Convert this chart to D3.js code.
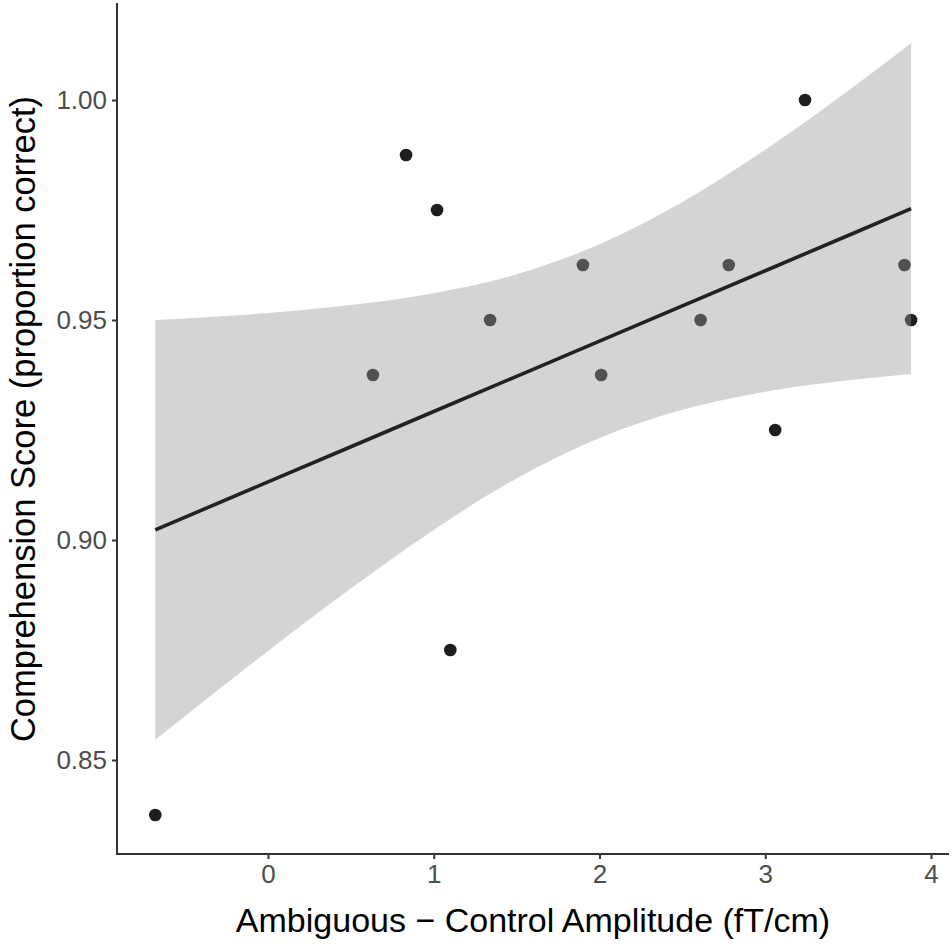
<!DOCTYPE html>
<html>
<head>
<meta charset="utf-8">
<script src="https://cdn.jsdelivr.net/npm/d3@7"></script>
<style>
  html, body { margin: 0; padding: 0; background: #fff; }
  svg { display: block; }
  text { font-family: "Liberation Sans", Arial, Helvetica, sans-serif; }
</style>
</head>
<body>
<svg id="chart" width="952" height="946"></svg>
<script>
// ---- data ----
const amplitude = [-0.68, 0.633, 0.833, 1.02, 1.10, 1.34, 1.90, 2.01, 2.61, 2.78, 3.06, 3.24, 3.84, 3.88];
const score     = [0.8375, 0.9375, 0.9875, 0.975, 0.875, 0.95, 0.9625, 0.9375, 0.95, 0.9625, 0.925, 1.0, 0.9625, 0.95];

// fitted line and 95% confidence band (as seen in the picture)
const fitX     = [-0.68, 0, 0.5, 1, 1.5, 2, 2.5, 3, 3.5, 3.88];
const fitY     = [0.9023, 0.9132, 0.9212, 0.9292, 0.9372, 0.9452, 0.9532, 0.9612, 0.9692, 0.9753];
const fitLower = [0.8546, 0.8748, 0.8890, 0.9023, 0.9140, 0.9232, 0.9296, 0.9337, 0.9363, 0.9377];
const fitUpper = [0.9500, 0.9516, 0.9534, 0.9561, 0.9604, 0.9672, 0.9768, 0.9887, 1.0021, 1.0129];

const xTicks = [0, 1, 2, 3, 4];
const yTicks = [0.85, 0.90, 0.95, 1.00];
const xTitle = "Ambiguous \u2212 Control Amplitude (fT/cm)";
const yTitle = "Comprehension Score (proportion correct)";

// ---- layout ----
const svg = d3.select("#chart");
const panel = { left: 117, right: 949, top: 3, bottom: 854 };

const x = d3.scaleLinear().domain([0, 4]).range([268, 931]);
const y = d3.scaleLinear().domain([0.85, 1.00]).range([760, 100]);

// points (drawn beneath the ribbon, as in ggplot)
const pts = amplitude.map((a, i) => ({ x: a, y: score[i] }));
svg.append("g").selectAll("circle").data(pts).join("circle")
  .attr("cx", d => x(d.x)).attr("cy", d => y(d.y)).attr("r", 6.3)
  .attr("fill", "#1e1e1e");

// confidence ribbon
const band = fitX.map((v, i) => ({ x: v, lo: fitLower[i], hi: fitUpper[i] }));
svg.append("path").datum(band)
  .attr("d", d3.area().curve(d3.curveMonotoneX)
    .x(d => x(d.x)).y0(d => y(d.lo)).y1(d => y(d.hi)))
  .attr("fill", "#999999").attr("fill-opacity", 0.42);

// fitted line
const fit = fitX.map((v, i) => ({ x: v, y: fitY[i] }));
svg.append("path").datum(fit)
  .attr("d", d3.line().x(d => x(d.x)).y(d => y(d.y)))
  .attr("fill", "none").attr("stroke", "#222").attr("stroke-width", 3.6);

// axes
const xAxis = d3.axisBottom(x).tickValues(xTicks).tickFormat(d3.format("d"))
  .tickSize(5).tickPadding(6);
const gx = svg.append("g").attr("transform", `translate(0,${panel.bottom})`).call(xAxis);
gx.select(".domain").remove();
gx.selectAll(".tick line").attr("stroke", "#333").attr("stroke-width", 2);
gx.selectAll(".tick text").attr("fill", "#4d4d4d").attr("font-size", 26)
  .attr("font-family", "Liberation Sans, Arial, sans-serif");

const yAxis = d3.axisLeft(y).tickValues(yTicks).tickFormat(d3.format(".2f"))
  .tickSize(5).tickPadding(5);
const gy = svg.append("g").attr("transform", `translate(${panel.left},0)`).call(yAxis);
gy.select(".domain").remove();
gy.selectAll(".tick line").attr("stroke", "#333").attr("stroke-width", 2);
gy.selectAll(".tick text").attr("fill", "#4d4d4d").attr("font-size", 26)
  .attr("font-family", "Liberation Sans, Arial, sans-serif");

// axis lines
svg.append("line").attr("x1", panel.left).attr("x2", panel.left)
  .attr("y1", panel.top).attr("y2", panel.bottom + 1)
  .attr("stroke", "#333").attr("stroke-width", 2);
svg.append("line").attr("x1", panel.left - 1).attr("x2", panel.right)
  .attr("y1", panel.bottom).attr("y2", panel.bottom)
  .attr("stroke", "#333").attr("stroke-width", 2);

// titles
svg.append("text").attr("x", (panel.left + panel.right) / 2).attr("y", 932)
  .attr("text-anchor", "middle").attr("font-size", 34).attr("fill", "#000")
  .text(xTitle);
svg.append("text")
  .attr("transform", `translate(35,419) rotate(-90)`)
  .attr("text-anchor", "middle").attr("font-size", 34.5).attr("fill", "#000")
  .text(yTitle);
</script>
</body>
</html>
